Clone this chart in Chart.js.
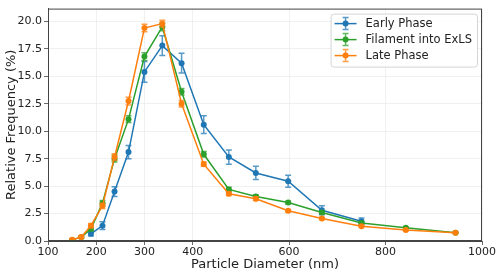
<!DOCTYPE html>
<html>
<head>
<meta charset="utf-8">
<script src="https://cdn.jsdelivr.net/npm/chart.js@4.4.1/dist/chart.umd.min.js"></script>
<style>
  html, body { margin: 0; padding: 0; background: #fff; }
  #wrap { width: 500px; height: 276px; }
</style>
</head>
<body>
<div id="wrap"><canvas id="chart" width="500" height="276"></canvas></div>
<script>
// Data
const diameters = [150, 169, 189, 213, 238, 267, 300, 337, 377, 423, 475, 531, 598, 668, 750, 842, 945];

const earlyFreq = [null, null, 0.65, 1.4, 4.5, 8.1, 15.4, 17.8, 16.2, 10.6, 7.65, 6.2, 5.45, 2.8, 1.8, null, null];
const earlyErr  = [null, null, 0.2, 0.35, 0.45, 0.6, 0.95, 0.9, 0.9, 0.8, 0.65, 0.6, 0.55, 0.4, 0.3, null, null];

const filamentFreq = [0.1, 0.35, 1.1, 3.45, 7.5, 11.1, 16.8, 19.5, 13.6, 7.9, 4.7, 4.05, 3.5, 2.6, 1.65, 1.2, 0.75];
const filamentErr  = [0.05, 0.1, 0.15, 0.25, 0.3, 0.3, 0.35, 0.35, 0.3, 0.25, 0.2, 0.15, 0.12, 0.12, 0.1, 0.08, 0.05];

const lateFreq = [0.12, 0.36, 1.4, 3.2, 7.65, 12.75, 19.4, 19.8, 12.5, 7.0, 4.3, 3.85, 2.75, 2.05, 1.35, 1.0, 0.75];
const lateErr  = [0.05, 0.1, 0.2, 0.25, 0.3, 0.35, 0.35, 0.3, 0.3, 0.2, 0.15, 0.15, 0.1, 0.1, 0.08, 0.08, 0.05];

const seriesLabels = ['Early Phase', 'Filament into ExLS', 'Late Phase'];
const xTickValues = [100, 200, 300, 400, 600, 800, 1000];
const yTickValues = [0, 2.5, 5, 7.5, 10, 12.5, 15, 17.5, 20];

const FONT = "'DejaVu Sans', sans-serif";

function toPoints(values, errs) {
    const pts = [];
    diameters.forEach((d, i) => {
        if (values[i] !== null) pts.push({ x: d, y: values[i], err: errs[i] });
    });
    return pts;
}

function makeSet(label, values, errs, color, errColor, order) {
    return {
        label: label,
        data: toPoints(values, errs),
        borderColor: color,
        backgroundColor: color,
        errColor: errColor,
        borderWidth: 1.5,
        pointRadius: 3,
        pointHoverRadius: 3,
        pointBorderWidth: 0,
        tension: 0,
        fill: false,
        order: order
    };
}

const datasets = [
    makeSet(seriesLabels[0], earlyFreq, earlyErr, '#1f77b4', 'rgba(31,119,180,0.75)', 3),
    makeSet(seriesLabels[1], filamentFreq, filamentErr, '#2ca02c', 'rgba(44,160,44,0.75)', 2),
    makeSet(seriesLabels[2], lateFreq, lateErr, '#ff7f0e', 'rgba(255,127,14,0.75)', 1)
];

// error bars, drawn with each dataset
const errorBars = {
    id: 'errorBars',
    afterDatasetDraw(chart, args) {
        const ds = chart.data.datasets[args.index];
        const xs = chart.scales.x, ys = chart.scales.y;
        const ctx = chart.ctx;
        ctx.save();
        ctx.strokeStyle = ds.errColor;
        ctx.lineWidth = 1.5;
        ds.data.forEach(p => {
            if (!p.err) return;
            const px = xs.getPixelForValue(p.x);
            const top = ys.getPixelForValue(p.y + p.err);
            const bot = ys.getPixelForValue(p.y - p.err);
            ctx.beginPath();
            ctx.moveTo(px, top); ctx.lineTo(px, bot);
            ctx.moveTo(px - 3, top); ctx.lineTo(px + 3, top);
            ctx.moveTo(px - 3, bot); ctx.lineTo(px + 3, bot);
            ctx.stroke();
        });
        ctx.restore();
    }
};

// frame on all four sides + legend box in the upper right
const frameAndLegend = {
    id: 'frameAndLegend',
    afterDraw(chart) {
        const ctx = chart.ctx;
        const a = chart.chartArea;
        ctx.save();
        ctx.strokeStyle = '#444';
        ctx.lineWidth = 1;
        ctx.strokeRect(a.left + 0.5, a.top + 0.5, a.right - a.left - 1, a.bottom - a.top - 1);

        // legend
        ctx.font = '11.5px ' + FONT;
        const textW = Math.max(...seriesLabels.map(t => ctx.measureText(t).width));
        const boxW = 35 + textW + 5;
        const boxH = 53;
        const bx = a.right - 5 - boxW;
        const by = a.top + 5;
        ctx.fillStyle = 'rgba(255,255,255,0.85)';
        ctx.strokeStyle = '#d5d5d5';
        ctx.beginPath();
        ctx.roundRect(bx + 0.5, by + 0.5, boxW, boxH, 3);
        ctx.fill();
        ctx.stroke();

        chart.data.datasets.forEach((ds, i) => {
            const cy = by + 10 + i * 16;
            const mx = bx + 15;
            ctx.strokeStyle = ds.borderColor;
            ctx.lineWidth = 1.5;
            ctx.beginPath();
            ctx.moveTo(bx + 4, cy); ctx.lineTo(bx + 26, cy);
            ctx.stroke();
            ctx.strokeStyle = ds.errColor;
            ctx.beginPath();
            ctx.moveTo(mx, cy - 6); ctx.lineTo(mx, cy + 6);
            ctx.moveTo(mx - 3, cy - 6); ctx.lineTo(mx + 3, cy - 6);
            ctx.moveTo(mx - 3, cy + 6); ctx.lineTo(mx + 3, cy + 6);
            ctx.stroke();
            ctx.fillStyle = ds.borderColor;
            ctx.beginPath();
            ctx.arc(mx, cy, 3, 0, Math.PI * 2);
            ctx.fill();
            ctx.fillStyle = '#222';
            ctx.textBaseline = 'middle';
            ctx.textAlign = 'left';
            ctx.fillText(ds.label, bx + 35, cy + 0.5);
        });
        ctx.restore();
    }
};

const ctx = document.getElementById('chart').getContext('2d');
const chart = new Chart(ctx, {
    type: 'line',
    data: { datasets: datasets },
    options: {
        responsive: false,
        animation: false,
        devicePixelRatio: 1,
        layout: { padding: { left: 0, right: 18, top: 5, bottom: 0 } },
        plugins: {
            legend: { display: false },
            tooltip: { enabled: false }
        },
        scales: {
            x: {
                type: 'linear',
                min: 100,
                max: 1000,
                afterBuildTicks: scale => { scale.ticks = xTickValues.map(v => ({ value: v })); },
                afterFit: scale => { scale.height = 35; },
                grid: { color: '#ececec', lineWidth: 0.8, tickLength: 4, tickColor: '#444' },
                border: { color: '#444' },
                ticks: {
                    font: { family: FONT, size: 11 },
                    color: '#222',
                    padding: 1,
                    maxRotation: 0,
                    autoSkip: false,
                    callback: v => String(v)
                },
                title: {
                    display: true,
                    text: 'Particle Diameter (nm)',
                    font: { family: FONT, size: 13 },
                    color: '#222',
                    padding: { top: 0, bottom: 4 }
                }
            },
            y: {
                type: 'linear',
                min: 0,
                max: 21.17,
                afterBuildTicks: scale => { scale.ticks = yTickValues.map(v => ({ value: v })); },
                afterFit: scale => { scale.width = 48; },
                grid: { color: '#ececec', lineWidth: 0.8, tickLength: 4, tickColor: '#444' },
                border: { color: '#444' },
                ticks: {
                    font: { family: FONT, size: 11 },
                    color: '#222',
                    padding: 2,
                    callback: v => v.toFixed(1)
                },
                title: {
                    display: true,
                    text: 'Relative Frequency (%)',
                    font: { family: FONT, size: 13 },
                    color: '#222',
                    padding: { top: 4, bottom: 0 }
                }
            }
        }
    },
    plugins: [errorBars, frameAndLegend]
});
</script>
</body>
</html>
